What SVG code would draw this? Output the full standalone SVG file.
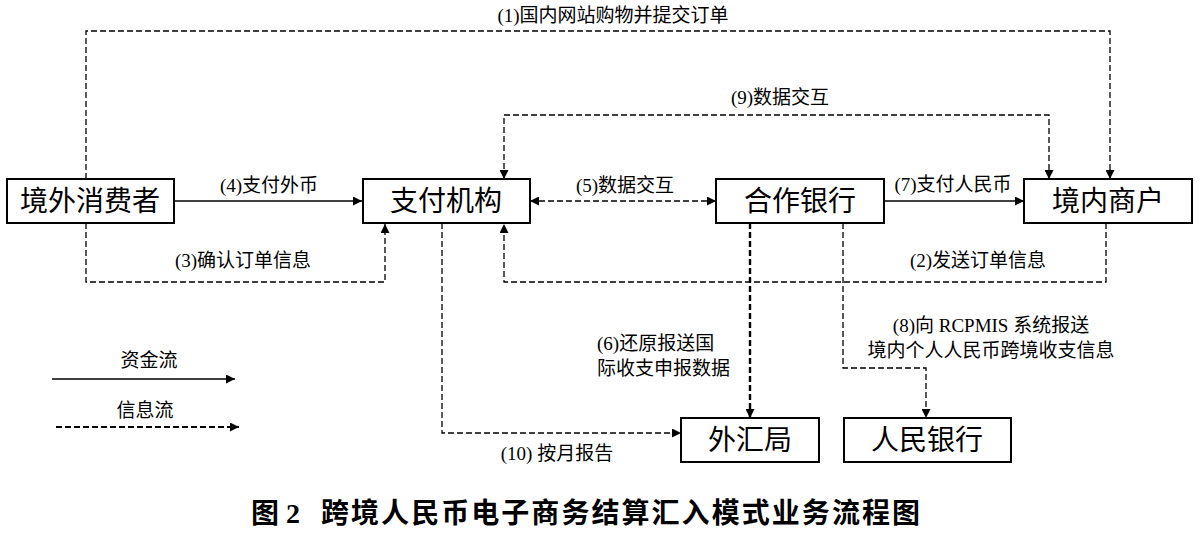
<svg xmlns="http://www.w3.org/2000/svg" width="1200" height="534" viewBox="0 0 1200 534">
<style>
.box{fill:#fff;stroke:#000;stroke-width:2}
.nt{font-family:"Liberation Serif","Noto Sans CJK SC",serif;font-size:28px;fill:#000;text-anchor:middle;dominant-baseline:central}
.lb{font-family:"Liberation Serif","Noto Sans CJK SC",serif;font-size:19px;fill:#000;dominant-baseline:central}
.mid{text-anchor:middle}
.solid{fill:none;stroke:#000;stroke-width:1.5}
.dash{fill:none;stroke:#000;stroke-width:1.3;stroke-dasharray:6 3}
.dashb{fill:none;stroke:#000;stroke-width:2.4;stroke-dasharray:6 3}
.title{font-family:"Liberation Serif","Noto Sans CJK SC",sans-serif;font-size:28px;font-weight:bold;fill:#000;dominant-baseline:central}
</style>
<defs>
<marker id="ah" viewBox="0 0 10 10" refX="10" refY="5" markerWidth="10" markerHeight="9" markerUnits="userSpaceOnUse" orient="auto-start-reverse"><path d="M0,0 L10,5 L0,10 z" fill="#000"/></marker>
</defs>
<rect width="1200" height="534" fill="#fff"/>
<g id="connectors">
<path class="dash" d="M86,179 V31 H1110 V179" marker-end="url(#ah)"/>
<path class="dash" d="M86,223 V282 H385 V224" marker-end="url(#ah)"/>
<path class="solid" d="M174,201 H362" marker-end="url(#ah)"/>
<path class="dash" d="M530,201 H716" marker-start="url(#ah)" marker-end="url(#ah)"/>
<path class="solid" d="M884,201 H1024" marker-end="url(#ah)"/>
<path class="dash" d="M1049,179 V115 H504 V179" marker-start="url(#ah)" marker-end="url(#ah)"/>
<path class="dash" d="M1106,223 V282 H504 V224" marker-end="url(#ah)"/>
<path class="dashb" d="M750,223 V418" marker-end="url(#ah)"/>
<path class="dash" d="M843,223 V368 H926 V418" marker-end="url(#ah)"/>
<path class="dash" d="M442,223 V433 H681" marker-end="url(#ah)"/>
<text class="lb mid" x="613" y="15">(1)国内网站购物并提交订单</text>
<text class="lb mid" x="780" y="97">(9)数据交互</text>
<text class="lb mid" x="269" y="185">(4)支付外币</text>
<text class="lb mid" x="625" y="185">(5)数据交互</text>
<text class="lb mid" x="953" y="184">(7)支付人民币</text>
<text class="lb mid" x="243" y="260">(3)确认订单信息</text>
<text class="lb mid" x="978" y="260">(2)发送订单信息</text>
<text class="lb" x="597" y="343">(6)还原报送国</text>
<text class="lb" x="597" y="368">际收支申报数据</text>
<text class="lb mid" x="991" y="325">(8)向 RCPMIS 系统报送</text>
<text class="lb mid" x="991" y="350">境内个人人民币跨境收支信息</text>
<text class="lb mid" x="557" y="453">(10) 按月报告</text>
</g>
<g id="legend">
<text class="lb mid" x="149" y="360">资金流</text>
<path class="solid" d="M52,379 H235" marker-end="url(#ah)"/>
<text class="lb mid" x="145" y="410">信息流</text>
<path class="dash" style="stroke-width:2" d="M56,427 H239" marker-end="url(#ah)"/>
</g>
<g id="n1"><rect class="box" x="7" y="179" width="167" height="44"/><text class="nt" x="90" y="201">境外消费者</text></g>
<g id="n2"><rect class="box" x="363" y="179" width="167" height="44"/><text class="nt" x="446" y="201">支付机构</text></g>
<g id="n3"><rect class="box" x="716" y="179" width="168" height="44"/><text class="nt" x="800" y="201">合作银行</text></g>
<g id="n4"><rect class="box" x="1024" y="179" width="168" height="44"/><text class="nt" x="1108" y="201">境内商户</text></g>
<g id="n5"><rect class="box" x="681" y="418" width="138" height="44"/><text class="nt" x="750" y="440">外汇局</text></g>
<g id="n6"><rect class="box" x="844" y="418" width="167" height="44"/><text class="nt" x="927" y="440">人民银行</text></g>
<text class="title" x="251" y="513">图 2</text>
<text class="title" x="321" y="513" textLength="599">跨境人民币电子商务结算汇入模式业务流程图</text>
</svg>
